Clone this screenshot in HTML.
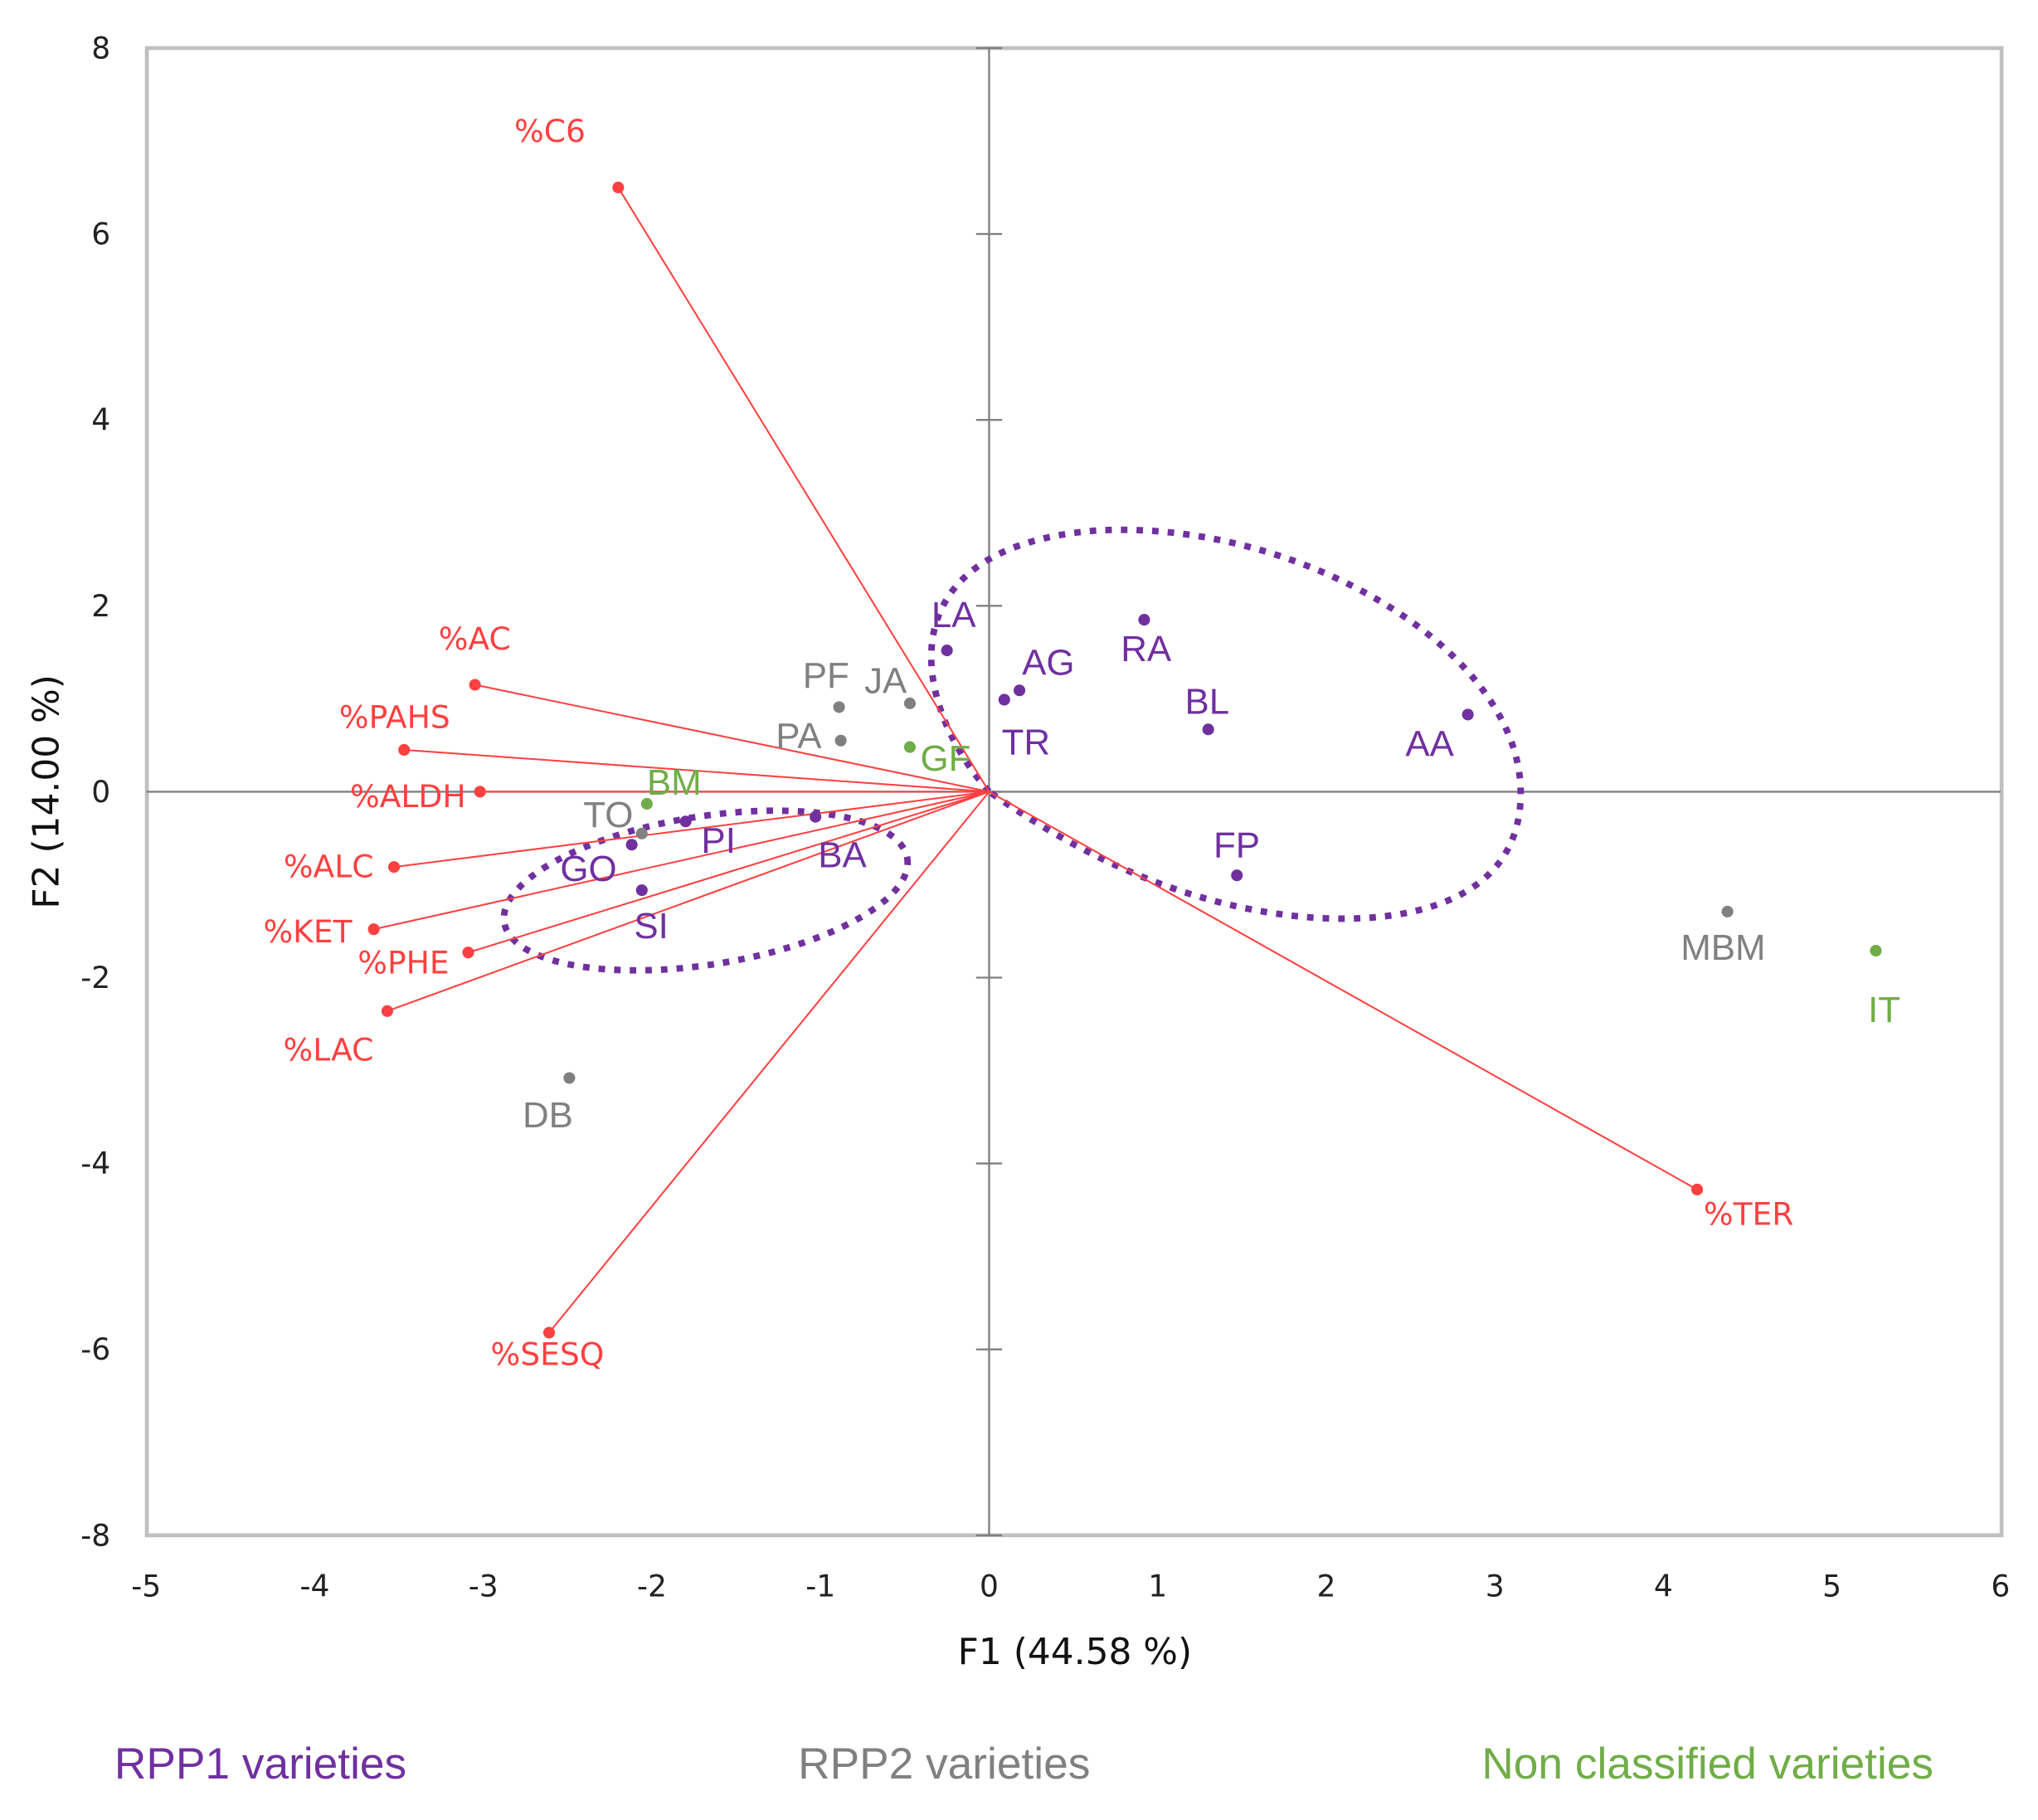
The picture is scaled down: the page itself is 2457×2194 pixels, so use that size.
<!DOCTYPE html>
<html><head><meta charset="utf-8">
<style>
html,body{margin:0;padding:0;background:#fff;}
svg{display:block;}
.tick{font-family:"DejaVu Sans","Liberation Sans",sans-serif;font-size:23px;fill:#222;}
.vl{font-family:"DejaVu Sans","Liberation Sans",sans-serif;font-size:24px;fill:#ff4040;}
.pl{font-family:"Liberation Sans Narrow","Liberation Sans",sans-serif;font-size:28px;}
</style></head>
<body>
<svg id="chart" width="2457" height="2194" viewBox="0 0 1568 1400" preserveAspectRatio="none" xmlns="http://www.w3.org/2000/svg">
<rect x="113" y="37" width="1427" height="1144" fill="#fff" stroke="#bfbfbf" stroke-width="3"/>
<g id="axes"></g>
<path d="M761,609 C700,540 680,420 845,408 C1000,400 1170,500 1170,610 C1170,700 1070,712 1000,705 C900,695 820,650 761,609 Z" fill="none" stroke="#7030a0" stroke-width="5" stroke-dasharray="5,7"/>
<ellipse cx="543" cy="685" rx="157" ry="57" transform="rotate(-9 543 685)" fill="none" stroke="#7030a0" stroke-width="5" stroke-dasharray="5,7"/>
<g id="vectors"></g>
<g id="points"></g>
<text x="827" y="1280" text-anchor="middle" font-family="DejaVu Sans,Liberation Sans,sans-serif" font-size="28" fill="#111">F1 (44.58 %)</text>
<text transform="translate(45 609) rotate(-90)" text-anchor="middle" font-family="DejaVu Sans,Liberation Sans,sans-serif" font-size="28" fill="#111">F2 (14.00 %)</text>
<text x="88" y="1368" class="pl" fill="#7030a0" style="font-size:34px">RPP1 varieties</text>
<text x="614" y="1368" class="pl" fill="#808080" style="font-size:34px">RPP2 varieties</text>
<text x="1140" y="1368" class="pl" fill="#70ad47" style="font-size:34px">Non classified varieties</text>
</svg>
<script>
const xTicks=[-5,-4,-3,-2,-1,0,1,2,3,4,5,6];
const yTicks=[-8,-6,-4,-2,0,2,4,6,8];
const vecNames=["%C6","%AC","%PAHS","%ALDH","%ALC","%KET","%PHE","%LAC","%SESQ","%TER"];
const vecX=[-2.20,-3.05,-3.47,-3.02,-3.53,-3.65,-3.09,-3.57,-2.61,4.20];
const vecY=[6.50,1.15,0.45,0.0,-0.81,-1.48,-1.73,-2.36,-5.82,-4.28];
const vecLabelDX=[-80,-28,-50,-100,-85,-85,-85,-80,-45,5];
const vecLabelDY=[-35,-27,-17,12,8,10,16,38,25,27];
const ptNames=["LA","AG","TR","RA","BL","AA","FP","PI","BA","GO","SI","PF","JA","PA","TO","DB","MBM","BM","GF","IT"];
const ptGroup=[1,1,1,1,1,1,1,1,1,1,1,2,2,2,2,2,2,3,3,3];
const ptX=[-0.25,0.18,0.09,0.92,1.30,2.84,1.47,-1.80,-1.03,-2.12,-2.06,-0.89,-0.47,-0.88,-2.06,-2.49,4.38,-2.03,-0.47,5.26];
const ptY=[1.52,1.09,0.99,1.85,0.67,0.83,-0.90,-0.32,-0.27,-0.57,-1.06,0.91,0.95,0.55,-0.45,-3.08,-1.29,-0.13,0.48,-1.71];
const ptLabelDX=[-12,2,-2,-18,-18,-48,-18,12,2,-55,-6,-28,-35,-50,-45,-36,-36,0,8,-6];
const ptLabelDY=[-18,-12,42,32,-12,32,-14,24,39,28,37,-15,-8,6,-5,38,37,-7,18,55];
const colors={1:"#7030a0",2:"#808080",3:"#70ad47"};
const sx=v=>761+(v)*129.7;
const sy=v=>609-(v)*71.5;
const NS="http://www.w3.org/2000/svg";
function mk(tag,attrs,parent){const e=document.createElementNS(NS,tag);for(const k in attrs)e.setAttribute(k,attrs[k]);parent.appendChild(e);return e;}
const axes=document.getElementById('axes');
let l=mk('line',{x1:sx(-5),x2:sx(6),y1:sy(0),y2:sy(0),stroke:'#808080','stroke-width':1.5},axes);


l=mk('line',{x1:sx(0),x2:sx(0),y1:sy(8),y2:sy(-8),stroke:'#808080','stroke-width':1.5},axes);


xTicks.forEach(v=>{
 const t=mk('text',{x:sx(v),y:1228,'text-anchor':'middle',class:'tick'},axes);t.textContent=v;
 
 
});
yTicks.forEach(v=>{
 const t=mk('text',{x:85,y:sy(v)+8,'text-anchor':'end',class:'tick'},axes);t.textContent=v;
 
 
 const m=mk('line',{x1:sx(0)-10,x2:sx(0)+10,y1:sy(v),y2:sy(v),stroke:'#808080','stroke-width':1.5},axes);
 
 
});
const vg=document.getElementById('vectors');
vecNames.forEach((n,i)=>{
 const ln=mk('line',{x1:sx(0),y1:sy(0),x2:sx(vecX[i]),y2:sy(vecY[i]),stroke:'#ff4040','stroke-width':1.3},vg);
 
 
 const c=mk('circle',{cx:sx(vecX[i]),cy:sy(vecY[i]),r:4.5,fill:'#ff4040'},vg);
 
 
 const t=mk('text',{x:sx(vecX[i])+vecLabelDX[i],y:sy(vecY[i])+vecLabelDY[i],class:'vl'},vg);t.textContent=n;
 
 
});
const pg=document.getElementById('points');
ptNames.forEach((n,i)=>{
 const col=colors[ptGroup[i]];
 const c=mk('circle',{cx:sx(ptX[i]),cy:sy(ptY[i]),r:4.5,fill:col},pg);
 
 
 const t=mk('text',{x:sx(ptX[i])+ptLabelDX[i],y:sy(ptY[i])+ptLabelDY[i],class:'pl',fill:col},pg);t.textContent=n;
 
 
});
</script>
</body></html>
